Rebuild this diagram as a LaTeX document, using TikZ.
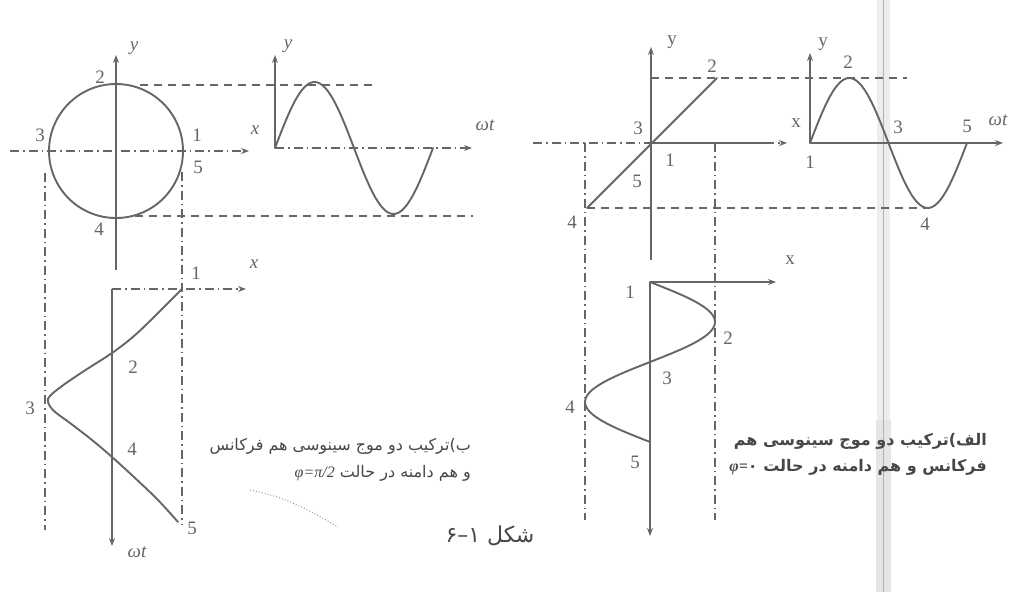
\documentclass[tikz,border=0pt]{standalone}
\usepackage{fontspec}
\setmainfont{Liberation Serif}
\newfontfamily\fa[Script=Arabic]{DejaVu Sans}
\newfontfamily\lser{Liberation Serif}
\TeXXeTstate=1
\usetikzlibrary{arrows.meta}
\definecolor{ink}{gray}{0.40}
\definecolor{capink}{gray}{0.28}
\tikzset{
  ax/.style={draw=ink, line width=1.1pt},
  curve/.style={draw=ink, line width=1.9pt, line cap=round, line join=round},
  dsh/.style={draw=ink, line width=1.3pt, dash pattern=on 8pt off 6pt},
  ddot/.style={draw=ink, line width=1.1pt, dash pattern=on 9pt off 4pt on 1.5pt off 4pt},
  arr/.style={-{Stealth[length=8pt,width=6pt]}},
  lab/.style={text=ink, font=\fontsize{19}{19}\selectfont, inner sep=0pt},
  ilab/.style={text=ink, font=\fontsize{19}{19}\selectfont\itshape, inner sep=0pt},
  fat/.style={text=capink, font=\fa\fontsize{16}{16}\selectfont, inner sep=0pt},
}
\begin{document}
\begin{tikzpicture}[x=1pt,y=-1pt]
\useasboundingbox[fill=white] (0,0) rectangle (1025,592);
% scan strip
\fill[black!7] (877,0) rectangle (890,592);
\fill[black!10] (876,420) rectangle (891,592);
\draw[black!30, line width=0.8pt] (883,0) -- (883,592);

% ================= LEFT FIGURE (b) =================
\coordinate (C) at (116,151);
\coordinate (xl0) at (10,151);  \coordinate (xl1) at (249,151);
\coordinate (yl0) at (116,270); \coordinate (yl1) at (116,55);
\draw[ddot, arr] (xl0) -- (xl1);
\draw[ax, arr] (yl0) -- (yl1);
\draw[curve] (C) circle (67pt);
\node[ilab] (ly1) at (134,48) {y};
\node[ilab] (lx1) at (255,130) {x};
\node[lab] (c2) at (100,77) {2};
\node[lab] (c3) at (40,135) {3};
\node[lab] (c1) at (197,135) {1};
\node[lab] (c5) at (198,167) {5};
\node[lab] (c4) at (99,229) {4};
% projection lines
\coordinate (dtA) at (140,85);  \coordinate (dtB) at (373,85);
\coordinate (dbA) at (135,216); \coordinate (dbB) at (473,216);
\draw[dsh] (dtA) -- (dtB);
\draw[dsh] (dbA) -- (dbB);
% sine
\coordinate (s0) at (275,148);
\coordinate (sy) at (275,55);
\coordinate (sx) at (472,148);
\draw[ax, arr] (s0) -- (sy);
\draw[ddot, arr] (s0) -- (sx);
\draw[curve] plot[domain=0:360, samples=72] ({275+0.43889*\x},{148-66*sin(\x)});
\node[ilab] (ly2) at (288,46) {y};
\node[ilab] (lw1) at (485,125) {ωt};
% lower plot
\coordinate (t0) at (112,289);
\coordinate (tx) at (246,289);
\coordinate (tw) at (112,546);
\draw[ddot, arr] (t0) -- (tx);
\draw[ax, arr] (t0) -- (tw);
\node[ilab] (lx2) at (254,264) {x};
\node[ilab] (lw2) at (137,552) {ωt};
\draw[ddot] (45,173) -- (45,530);
\draw[ddot] (182,172) -- (182,525);
\draw[curve] plot[smooth, tension=0.6] coordinates {
 (182,289) (157,314) (134,336) (112,353) (84,371) (62,386) (50,396) (48,402)
 (54,411) (70,423) (92,440) (112,457) (135,478) (158,500) (178,522)};
\node[lab] (d1) at (196,273) {1};
\node[lab] (d2) at (133,367) {2};
\node[lab] (d3) at (30,408) {3};
\node[lab] (d4) at (132,449) {4};
\node[lab] (d5) at (192,528) {5};
% caption b
\node[fat, anchor=east] (capb1) at (471,446) {\beginR ب)ترکیب دو موج سینوسی هم فرکانس\endR};
\node[fat, anchor=east] (capb2) at (471,473) {\beginR و هم دامنه در حالت \beginL{\lser\itshape φ=π/2}\endL\endR};
\draw[black!40, dotted, line width=1pt] (250,490) .. controls (290,498) and (312,512) .. (338,527);
\node[fat, font=\fa\fontsize{22}{22}\selectfont] (fig) at (490,536) {\beginR شکل ۱\kern0pt–\kern0pt۶\endR};

% ================= RIGHT FIGURE (a) =================
\coordinate (O) at (651,143);
\draw[ax, arr] (651,260) -- (651,47);
\draw[ddot] (533,143) -- (O);
\draw[ax] (O) -- (765,143);
\draw[ddot, arr] (765,143) -- (787,143);
\coordinate (P4) at (587,208); \coordinate (P2) at (717,78);
\draw[curve] (P4) -- (P2);
\draw[dsh] (651,78) -- (907,78);
\draw[dsh] (P4) -- (928,208);
\draw[ddot] (585,143) -- (585,520);
\draw[ddot] (715,143) -- (715,520);
\node[lab] (ry) at (672,42) {y};
\node[lab] (rx) at (796,123) {x};
\node[lab] (e2) at (712,66) {2};
\node[lab] (e3) at (638,128) {3};
\node[lab] (e1) at (670,160) {1};
\node[lab] (e5) at (637,181) {5};
\node[lab] (e4) at (572,222) {4};
% sine right
\coordinate (r0) at (810,143);
\draw[ax, arr] (r0) -- (810,53);
\draw[ax, arr] (r0) -- (1003,143);
\draw[curve] plot[domain=0:360, samples=72] ({810+0.43611*\x},{143-65*sin(\x)});
\node[lab] (ry2) at (823,44) {y};
\node[ilab] (rw) at (998,120) {ωt};
\node[lab] (f1) at (810,162) {1};
\node[lab] (f2) at (848,62) {2};
\node[lab] (f3) at (898,127) {3};
\node[lab] (f4) at (925,224) {4};
\node[lab] (f5) at (967,126) {5};
% lower right plot
\coordinate (q0) at (650,282);
\draw[ax, arr] (q0) -- (776,282);
\draw[ax, arr] (q0) -- (650,536);
\draw[curve] plot[domain=0:360, samples=72] ({650+65*sin(\x)},{282+0.44444*\x});
\node[lab] (rx2) at (790,260) {x};
\node[lab] (g1) at (630,292) {1};
\node[lab] (g2) at (728,338) {2};
\node[lab] (g3) at (667,378) {3};
\node[lab] (g4) at (570,407) {4};
\node[lab] (g5) at (635,462) {5};
% caption a
\node[fat, font=\fa\bfseries\fontsize{16}{16}\selectfont, anchor=east] (capa1) at (987,441) {\beginR الف)ترکیب دو موج سینوسی هم\endR};
\node[fat, font=\fa\bfseries\fontsize{16}{16}\selectfont, anchor=east] (capa2) at (987,467) {\beginR فرکانس و هم دامنه در حالت \beginL{\lser\itshape φ=}\kern0pt۰\endL\endR};
\end{tikzpicture}
\end{document}
